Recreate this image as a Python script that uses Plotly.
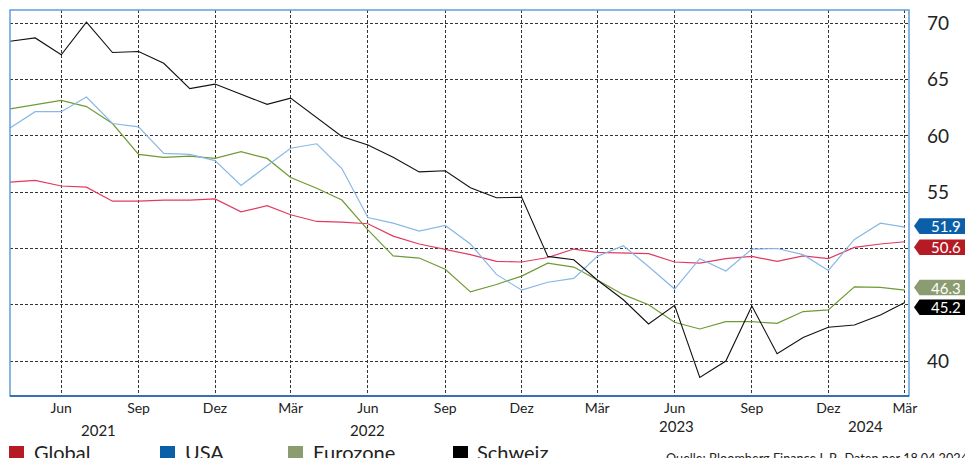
import pandas as pd
import plotly.graph_objects as go

# ---------------- data ----------------
months = pd.date_range("2021-04-01", periods=36, freq="MS")

global_pmi = [55.9, 56.05, 55.55, 55.45, 54.2, 54.2, 54.3, 54.3, 54.4, 53.25, 53.8, 53.0,
              52.4, 52.35, 52.2, 51.1, 50.4, 49.95, 49.45, 48.85, 48.8, 49.2, 49.95, 49.65,
              49.6, 49.55, 48.8, 48.7, 49.1, 49.3, 48.85, 49.35, 49.1, 50.1, 50.4, 50.6]
usa_pmi = [60.7, 62.15, 62.15, 63.45, 61.1, 60.8, 58.45, 58.35, 57.8, 55.6, 57.35, 58.9,
           59.3, 57.1, 52.75, 52.25, 51.55, 52.05, 50.4, 47.7, 46.3, 47.0, 47.35, 49.3,
           50.25, 48.4, 46.4, 49.1, 48.0, 49.95, 50.0, 49.45, 48.05, 50.8, 52.25, 51.9]
euro_pmi = [62.4, 62.75, 63.15, 62.6, 61.1, 58.35, 58.1, 58.2, 58.0, 58.6, 58.0, 56.3,
            55.35, 54.3, 51.65, 49.35, 49.15, 48.15, 46.15, 46.8, 47.55, 48.7, 48.35, 47.2,
            45.9, 45.0, 43.45, 42.85, 43.5, 43.5, 43.35, 44.4, 44.55, 46.6, 46.55, 46.3]
swiss_pmi = [68.4, 68.7, 67.2, 70.1, 67.4, 67.5, 66.45, 64.2, 64.6, 63.7, 62.8, 63.35,
             61.65, 59.95, 59.2, 58.1, 56.8, 56.9, 55.4, 54.5, 54.55, 49.3, 49.0, 47.2,
             45.45, 43.3, 44.95, 38.55, 40.0, 44.9, 40.65, 42.1, 43.0, 43.2, 44.1, 45.2]

series_names = ["Global", "USA", "Eurozone", "Schweiz"]
series_values = [global_pmi, usa_pmi, euro_pmi, swiss_pmi]
line_colors = ["#e23a62", "#88b8e6", "#6f9a35", "#111111"]
tag_colors = ["#b51b24", "#0b5fa9", "#8c9c71", "#000000"]
tag_shift_px = [-5.5, 1.0, 2.6, -4.7]   # vertical de-overlap of end labels

tick_dates = ["2021-06-01", "2021-09-01", "2021-12-01", "2022-03-01", "2022-06-01",
              "2022-09-01", "2022-12-01", "2023-03-01", "2023-06-01", "2023-09-01",
              "2023-12-01", "2024-03-01"]
tick_labels = ["Jun", "Sep", "Dez", "Mär", "Jun", "Sep", "Dez", "Mär", "Jun", "Sep",
               "Dez", "Mär"]
year_labels = ["2021", "2022", "2023", "2024"]
y_ticks = [40, 45, 50, 55, 60, 65, 70]
y_tick_text = ["40", "", "", "55", "60", "65", "70"]   # 45 / 50 sit under the value tags
source_text = "Quelle: Bloomberg Finance L.P., Daten per 18.04.2024"

# ---------------- layout geometry (pixels; page body margin removed) ----------------
W, H = 965, 458
L, R, T, B = 10, 909, 10, 396
PW, PH = R - L, B - T


def px(xp):
    return (xp - L) / PW


def py(yp):
    return (B - yp) / PH


FONT = "Lato, 'Noto Sans', sans-serif"

fig = go.Figure()
for i in [0, 2, 1, 3]:
    fig.add_trace(go.Scatter(
        x=months, y=series_values[i], mode="lines", name=series_names[i],
        line=dict(color=line_colors[i], width=1.2 if i != 3 else 1.1),
        showlegend=False, hoverinfo="skip"))

shapes = []
annotations = []

shapes.append(dict(type="rect", xref="paper", yref="paper", x0=0, x1=1, y0=0, y1=1,
                   line=dict(color="#5f9fd8", width=1.5), layer="above"))
shapes.append(dict(type="line", xref="paper", yref="paper", x0=0, x1=1, y0=0, y1=0,
                   line=dict(color="#1f5d9e", width=1.6), layer="above"))

for i in range(4):
    v = series_values[i][-1]
    s = tag_shift_px[i]
    h = 7.8
    path = (f"M 5,{s} L 10.5,{s + h} L 70,{s + h} L 70,{s - h} L 10.5,{s - h} Z")
    shapes.append(dict(type="path", xref="paper", yref="y",
                       xsizemode="pixel", ysizemode="pixel",
                       xanchor=1, yanchor=v, path=path,
                       fillcolor=tag_colors[i], line=dict(width=0), layer="above"))
    annotations.append(dict(x=px(945.5), y=v, xref="paper", yref="y", yshift=s,
                            text=f"{v:.1f}", showarrow=False, xanchor="center",
                            yanchor="middle",
                            font=dict(family=FONT, size=15, color="white")))

year_pos = [(98, 430), (367, 430), (676, 426), (865, 426)]
for lab, (xp, yp) in zip(year_labels, year_pos):
    annotations.append(dict(x=px(xp), y=py(yp), xref="paper", yref="paper", text=lab,
                            showarrow=False, xanchor="center", yanchor="middle",
                            font=dict(family=FONT, size=15, color="#222222")))

leg_sq = [9, 160, 288, 453]
leg_tx = [32, 183, 311, 475]
for i in range(4):
    shapes.append(dict(type="rect", xref="paper", yref="paper",
                       x0=px(leg_sq[i]), x1=px(leg_sq[i] + 15),
                       y0=py(446), y1=py(461), fillcolor=tag_colors[i],
                       line=dict(width=0)))
    annotations.append(dict(x=px(leg_tx[i]), y=py(452), xref="paper", yref="paper",
                            text=series_names[i], showarrow=False, xanchor="left",
                            yanchor="middle",
                            font=dict(family=FONT, size=20, color="#222222")))

annotations.append(dict(x=px(664), y=py(457.5), xref="paper", yref="paper",
                        text=source_text, showarrow=False, xanchor="left",
                        yanchor="middle",
                        font=dict(family=FONT, size=12.7, color="#222222")))

fig.update_layout(
    width=W, height=H,
    margin=dict(l=L, r=W - R, t=T, b=H - B, pad=0),
    paper_bgcolor="white", plot_bgcolor="white",
    showlegend=False, hovermode=False,
    shapes=shapes, annotations=annotations,
    xaxis=dict(type="date", range=["2021-04-01", "2024-03-06"],
               tickvals=tick_dates, ticktext=tick_labels,
               showgrid=True, gridcolor="#333333", gridwidth=1, griddash="3px,2px",
               ticks="", ticklabelstandoff=2, showline=False, zeroline=False,
               tickfont=dict(family=FONT, size=14, color="#222222")),
    yaxis=dict(range=[36.9, 71.18], tickvals=y_ticks, ticktext=y_tick_text, side="right",
               showgrid=True, gridcolor="#333333", gridwidth=1, griddash="3px,2px",
               ticks="", ticklabelstandoff=17, showline=False, zeroline=False,
               tickfont=dict(family=FONT, size=19, color="#222222")),
)

fig.write_html(
    "out.html",
    config={"displayModeBar": False, "staticPlot": True},
    post_script="document.body.style.margin='0px';document.body.style.overflow='hidden';",
)
